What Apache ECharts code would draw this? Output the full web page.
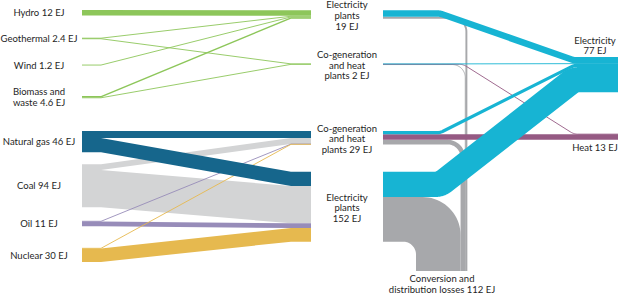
<!DOCTYPE html>
<html><head><meta charset="utf-8">
<script src="https://cdn.jsdelivr.net/npm/echarts@6/dist/echarts.min.js"></script>
<style>html,body{margin:0;padding:0;background:#fff}#c{width:618px;height:294px}</style>
</head><body><div id="c"></div>
<script>
// ---------------- data (EJ) ----------------
const sourceNames = ['Hydro', 'Geothermal', 'Wind', 'Biomass and\nwaste', 'Natural gas', 'Coal', 'Oil', 'Nuclear'];
const sourceValues = [12, 2.4, 1.2, 4.6, 46, 94, 11, 30];
const plantNames = ['Electricity\nplants\n', 'Co-generation\nand heat\nplants ', 'Co-generation\nand heat\nplants ', 'Electricity\nplants\n'];
const plantValues = [19, 2, 29, 152];
const useNames = ['Electricity\n', 'Heat ', 'Conversion and\ndistribution losses '];
const useValues = [77, 13, 112];
// [source index, plant index, EJ]
const inputLinks = [
  [0, 0, 12], [1, 0, 1.9], [1, 1, 0.5], [2, 0, 1.2], [3, 0, 3.1], [3, 1, 1.5],
  [4, 2, 15], [4, 3, 31], [5, 2, 13], [5, 3, 81], [6, 2, 0.5], [6, 3, 10.5], [7, 2, 0.5], [7, 3, 29.5]
];
// [plant index, use index, EJ]
const outputLinks = [
  [0, 0, 14], [0, 2, 4.2], [1, 0, 0.7], [1, 1, 0.7], [1, 2, 0.6],
  [2, 0, 7], [2, 1, 12], [2, 2, 10], [3, 0, 55], [3, 2, 97]
];

// ---------------- layout & style ----------------
const sourceColors = ['#8dc65a', '#8dc65a', '#8dc65a', '#8dc65a', '#16668c', '#d3d4d5', '#978cb9', '#e6b94f'];
const useColors = ['#17b4d3', '#955a83', '#a7a8ab'];
const Y_MAX = 640;                       // EJ spanned by full chart height
const sourceTop = [22, 82.2, 141, 209, 285.4, 357.3, 481.5, 540.3];
const plantTop = [22.4, 138.8, 285.4, 374];
const useTop = [124.2, 291.7];
const LOSS_BOTTOM = 590, LOSS_LEFT = 416, R_IN = 13, R_OUT_MAX = 38, FILLET = 14;
const X = {src0: 82, src1: 101, pin0: 291, pin1: 311, pout: 383, bendElec: 440, bendHeat: 463, node: 574, use1: 618};
const FONT = {fontFamily: 'Lato', fontSize: 9.5, lineHeight: 10.7, fill: '#1e1e1e'};

// ---------------- geometry bookkeeping ----------------
const geoms = [];
const srcOff = sourceTop.slice(), pinOff = plantTop.slice();
inputLinks.forEach(([s, p, v]) => {
  geoms.push({kind: 'in', y0: srcOff[s], y1: pinOff[p], v, color: sourceColors[s], src: s});
  srcOff[s] += v; pinOff[p] += v;
});
const poutOff = plantTop.slice(), useOff = useTop.slice();
const lossIdx = outputLinks.map((l, i) => i).filter(i => outputLinks[i][1] === 2).reverse();
const lossOff = {}; let acc = 0;
lossIdx.forEach(i => { lossOff[i] = acc; acc += outputLinks[i][2]; });
outputLinks.forEach(([p, u, v], i) => {
  const g = {kind: u === 2 ? 'loss' : 'out', y0: poutOff[p], v, color: useColors[u], use: u};
  if (u === 2) g.xOff = lossOff[i]; else { g.y1 = useOff[u]; useOff[u] += v; }
  poutOff[p] += v;
  geoms.push(g);
});
const rank = g => g.kind === 'in' ? ({5: 0, 6: 1, 7: 2, 4: 3}[g.src] ?? 4) : ({2: 5, 1: 6, 0: 7}[g.use]);
const order = geoms.map((g, i) => i).sort((a, b) => rank(geoms[a]) - rank(geoms[b]) || a - b);

// rounded-corner polyline
function fillet(pts, R) {
  const out = [pts[0]];
  for (let k = 1; k < pts.length - 1; k++) {
    const A = pts[k - 1], B = pts[k], C = pts[k + 1];
    const l1 = Math.hypot(B[0] - A[0], B[1] - A[1]), l2 = Math.hypot(C[0] - B[0], C[1] - B[1]);
    const u1 = [(B[0] - A[0]) / l1, (B[1] - A[1]) / l1], u2 = [(C[0] - B[0]) / l2, (C[1] - B[1]) / l2];
    const cosv = Math.max(-1, Math.min(1, u1[0] * u2[0] + u1[1] * u2[1]));
    const phi = Math.acos(cosv);
    let d = R * Math.tan(phi / 2);
    d = Math.min(d, 0.45 * l1, 0.45 * l2);
    if (d < 0.01) { out.push(B); continue; }
    const P = [B[0] - u1[0] * d, B[1] - u1[1] * d], Q = [B[0] + u2[0] * d, B[1] + u2[1] * d];
    for (let i = 0; i <= 12; i++) {
      const s = i / 12, m = 1 - s;
      out.push([m * m * P[0] + 2 * m * s * B[0] + s * s * Q[0], m * m * P[1] + 2 * m * s * B[1] + s * s * Q[1]]);
    }
  }
  out.push(pts[pts.length - 1]);
  return out;
}

function renderLink(params, api) {
  const g = geoms[api.value(0)];
  const t = api.size([0, g.v])[1];
  const xp = x => api.coord([x, 0])[0];
  const yp = y => api.coord([0, y])[1];
  const w = Math.max(t, 0.9);
  if (g.kind === 'out') {
    const yc0 = yp(g.y0) + t / 2, yc1 = yp(g.y1) + t / 2;
    const bend = xp(g.use === 0 ? X.bendElec : X.bendHeat);
    const pts = fillet([[xp(X.pout), yc0], [bend, yc0], [xp(X.node), yc1], [xp(X.use1), yc1]], Math.max(FILLET, t / 2 + 2));
    return {type: 'polyline', shape: {points: pts},
      style: {stroke: g.color, lineWidth: w, fill: null, lineJoin: 'round', lineCap: 'butt'}};
  }
  let edge;
  if (g.kind === 'in') {
    const ya = yp(g.y0), yb = yp(g.y1);
    edge = o => [[xp(X.src0), ya + o], [xp(X.src1), ya + o], [xp(X.pin0), yb + o], [xp(X.pin1), yb + o]];
  } else {
    const xl = xp(LOSS_LEFT) + api.size([0, g.xOff])[1];
    const xr = xl + t;
    const ys0 = yp(g.y0), yEnd = yp(LOSS_BOTTOM);
    const Ro = Math.min(R_IN + t, R_OUT_MAX);
    edge = o => {
      const f = t > 0 ? o / t : 0.5;
      const r = Ro + (R_IN - Ro) * f;
      const cx = xr - o - r, cy = ys0 + o + r;
      const pts = [[xp(X.pout), ys0 + o]];
      for (let i = 0; i <= 20; i++) {
        const a = -Math.PI / 2 + (Math.PI / 2) * i / 20;
        pts.push([cx + r * Math.cos(a), cy + r * Math.sin(a)]);
      }
      pts.push([cx + r, yEnd]);
      return pts;
    };
  }
  if (t < 1.2) {
    return {type: 'polyline', shape: {points: edge(t / 2)}, style: {stroke: g.color, lineWidth: w, fill: null}};
  }
  return {type: 'polygon', shape: {points: edge(0).concat(edge(t).reverse())}, style: {fill: g.color}};
}

// labels
const labels = [];
sourceNames.forEach((n, i) => labels.push({text: n + ' ' + sourceValues[i] + ' EJ', x: 39, y: sourceTop[i] + sourceValues[i] / 2, va: 'middle', dy: 0}));
plantNames.forEach((n, i) => labels.push({text: n + plantValues[i] + ' EJ', x: 347, y: plantTop[i] + plantValues[i] / 2, va: 'middle', dy: 1}));
labels.push({text: useNames[0] + useValues[0] + ' EJ', x: 595, y: useTop[0], va: 'bottom', dy: -1});
labels.push({text: useNames[1] + useValues[1] + ' EJ', x: 595, y: useTop[1] + useValues[1], va: 'top', dy: 2});
labels.push({text: useNames[2] + useValues[2] + ' EJ', x: 442, y: LOSS_BOTTOM, va: 'top', dy: 2});

function renderLabel(params, api) {
  const L = labels[api.value(0)];
  const p = api.coord([L.x, L.y]);
  return {type: 'text', x: p[0], y: p[1] + L.dy,
    style: Object.assign({text: L.text, align: 'center', verticalAlign: L.va}, FONT)};
}

const chart = echarts.init(document.getElementById('c'), null, {renderer: 'svg'});
chart.setOption({
  animation: false,
  backgroundColor: '#fff',
  grid: {left: 0, right: 0, top: 0, bottom: 0},
  xAxis: {type: 'value', min: 0, max: 618, show: false},
  yAxis: {type: 'value', min: 0, max: Y_MAX, inverse: true, show: false},
  series: [
    {type: 'custom', coordinateSystem: 'cartesian2d', renderItem: renderLink, silent: true, clip: false,
     data: order.map(i => [i])},
    {type: 'custom', coordinateSystem: 'cartesian2d', renderItem: renderLabel, silent: true, clip: false,
     data: labels.map((l, i) => [i])}
  ]
});
</script></body></html>
